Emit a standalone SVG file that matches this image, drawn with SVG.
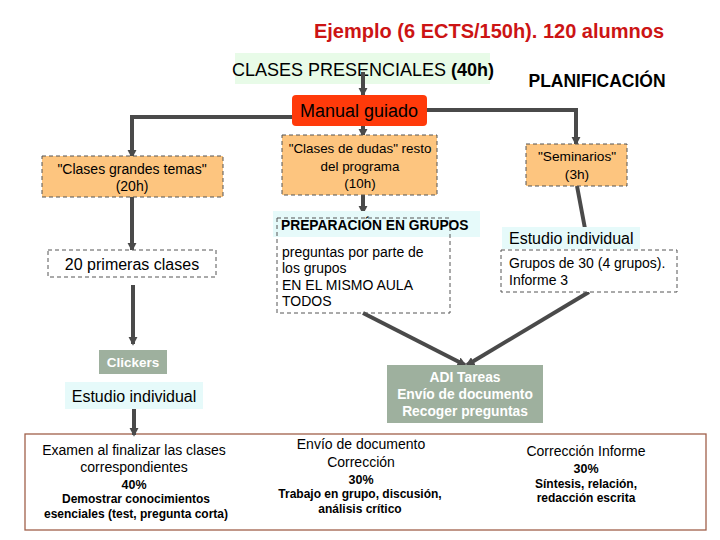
<svg xmlns="http://www.w3.org/2000/svg" width="720" height="540" viewBox="0 0 720 540">
<defs>
<marker id="ah" viewBox="0 0 10 10" refX="8" refY="5" markerWidth="2.3" markerHeight="2.3" orient="auto" markerUnits="strokeWidth">
<path d="M0,0 L10,5 L0,10 z" fill="#4a4a4a"/>
</marker>
<style>
text{font-family:"Liberation Sans",Arial,sans-serif;fill:#000}
.c{stroke:#4a4a4a;stroke-width:4;fill:none}
.ca{stroke:#4a4a4a;stroke-width:4;fill:none;marker-end:url(#ah)}
.org{fill:#fdc57f;stroke:#555;stroke-width:1;stroke-dasharray:4,3}
.dsh{fill:#fff;stroke:#555;stroke-width:1;stroke-dasharray:4,3}
.cy{fill:#e6fafa}
.gg{fill:#9eb09e}
.wt{fill:#fff;font-weight:bold}
.b{font-weight:bold}
</style>
</defs>
<rect width="720" height="540" fill="#fff"/>
<text x="489" y="38" text-anchor="middle" font-size="20" font-weight="bold" style="fill:#cc1414">Ejemplo (6 ECTS/150h). 120 alumnos</text>
<text x="597" y="87" text-anchor="middle" font-size="17.5" class="b">PLANIFICACIÓN</text>
<g id="exam-box">
<rect x="25" y="434" width="681" height="96" fill="#fff" stroke="#a0604a" stroke-width="1.3"/>
<text text-anchor="middle" font-size="14"><tspan x="134" y="455">Examen al finalizar las clases</tspan><tspan x="134" y="472">correspondientes</tspan></text>
<text x="134" y="489" text-anchor="middle" font-size="12.5" class="b">40%</text>
<text text-anchor="middle" font-size="12" class="b"><tspan x="136" y="503">Demostrar conocimientos</tspan><tspan x="136" y="518">esenciales (test, pregunta corta)</tspan></text>
<text text-anchor="middle" font-size="14"><tspan x="361" y="449">Envío de documento</tspan><tspan x="361" y="467">Corrección</tspan></text>
<text x="361" y="484" text-anchor="middle" font-size="12.5" class="b">30%</text>
<text text-anchor="middle" font-size="12" class="b"><tspan x="360" y="498">Trabajo en grupo, discusión,</tspan><tspan x="360" y="513">análisis crítico</tspan></text>
<text x="586" y="456" text-anchor="middle" font-size="14">Corrección Informe</text>
<text x="586" y="473" text-anchor="middle" font-size="12.5" class="b">30%</text>
<text text-anchor="middle" font-size="12" class="b"><tspan x="586" y="488">Síntesis, relación,</tspan><tspan x="586" y="502">redacción escrita</tspan></text>
</g>
<g id="clases-presenciales">
<rect x="235" y="53" width="255" height="31" fill="#e8fbe8"/>
<text x="232" y="76" font-size="18">CLASES PRESENCIALES <tspan class="b">(40h)</tspan></text>
</g>
<g id="connectors">
<path class="ca" d="M363,72 V95"/>
<path class="ca" d="M295,117 H132 V157"/>
<path class="ca" d="M425,110 H576 V144"/>
<path class="ca" d="M363,126 V136"/>
<path class="ca" d="M132,197 V250"/>
<path class="ca" d="M363,195 V213"/>
<path class="ca" d="M577,186 L589,250"/>
<path class="c" d="M133,285 V300"/>
<path class="ca" d="M133,300 V344"/>
<path class="ca" d="M134,409 V435"/>
<path class="ca" d="M363,313 L465,365"/>
<path class="ca" d="M589,292 L467,365"/>
</g>
<g id="manual-guiado">
<rect x="292" y="95" width="135" height="31" rx="4" fill="#ff3a0a"/>
<text x="359" y="117" text-anchor="middle" font-size="18">Manual guiado</text>
</g>
<g id="clases-grandes">
<rect class="org" x="42" y="156" width="181" height="41"/>
<text text-anchor="middle" font-size="14"><tspan x="132" y="174">"Clases grandes temas"</tspan><tspan x="132" y="191">(20h)</tspan></text>
</g>
<g id="clases-dudas">
<rect class="org" x="282" y="135" width="155" height="60"/>
<text text-anchor="middle" font-size="13.4"><tspan x="360" y="153">"Clases de dudas" resto</tspan><tspan x="360" y="171">del programa</tspan><tspan x="360" y="188">(10h)</tspan></text>
</g>
<g id="seminarios">
<rect class="org" x="526" y="144" width="101" height="42"/>
<text text-anchor="middle" font-size="13.7"><tspan x="577" y="161">"Seminarios"</tspan><tspan x="577" y="179">(3h)</tspan></text>
</g>
<g id="primeras-clases">
<rect class="dsh" x="48" y="250" width="168" height="27"/>
<text x="132" y="270" text-anchor="middle" font-size="16">20 primeras clases</text>
</g>
<g id="preparacion">
<rect class="cy" x="273" y="211" width="207" height="26"/>
<rect x="277" y="218" width="173" height="95" fill="none" stroke="#555" stroke-dasharray="4,3"/>
<text x="281" y="230" font-size="13.8" class="b">PREPARACIÓN EN GRUPOS</text>
<text font-size="14"><tspan x="282" y="257">preguntas por parte de</tspan><tspan x="282" y="273">los grupos</tspan><tspan x="282" y="290">EN EL MISMO AULA</tspan><tspan x="282" y="306">TODOS</tspan></text>
</g>
<g id="estudio-individual-der">
<rect class="cy" x="502" y="227" width="138" height="22"/>
<text x="509" y="244" font-size="16">Estudio individual</text>
</g>
<g id="grupos">
<rect class="dsh" x="501" y="250" width="176" height="42"/>
<text font-size="14"><tspan x="509" y="268">Grupos de 30 (4 grupos).</tspan><tspan x="509" y="285">Informe 3</tspan></text>
</g>
<g id="clickers">
<rect class="gg" x="99" y="350" width="68" height="24"/>
<text x="133" y="367" text-anchor="middle" font-size="13.5" class="wt">Clickers</text>
</g>
<g id="estudio-individual-izq">
<rect class="cy" x="65" y="382" width="138" height="27"/>
<text x="134" y="402" text-anchor="middle" font-size="16">Estudio individual</text>
</g>
<g id="adi">
<rect class="gg" x="387" y="365" width="156" height="58"/>
<text text-anchor="middle" font-size="13.8" class="wt"><tspan x="465" y="382">ADI Tareas</tspan><tspan x="465" y="399">Envío de documento</tspan><tspan x="465" y="416">Recoger preguntas</tspan></text>
</g>
</svg>
